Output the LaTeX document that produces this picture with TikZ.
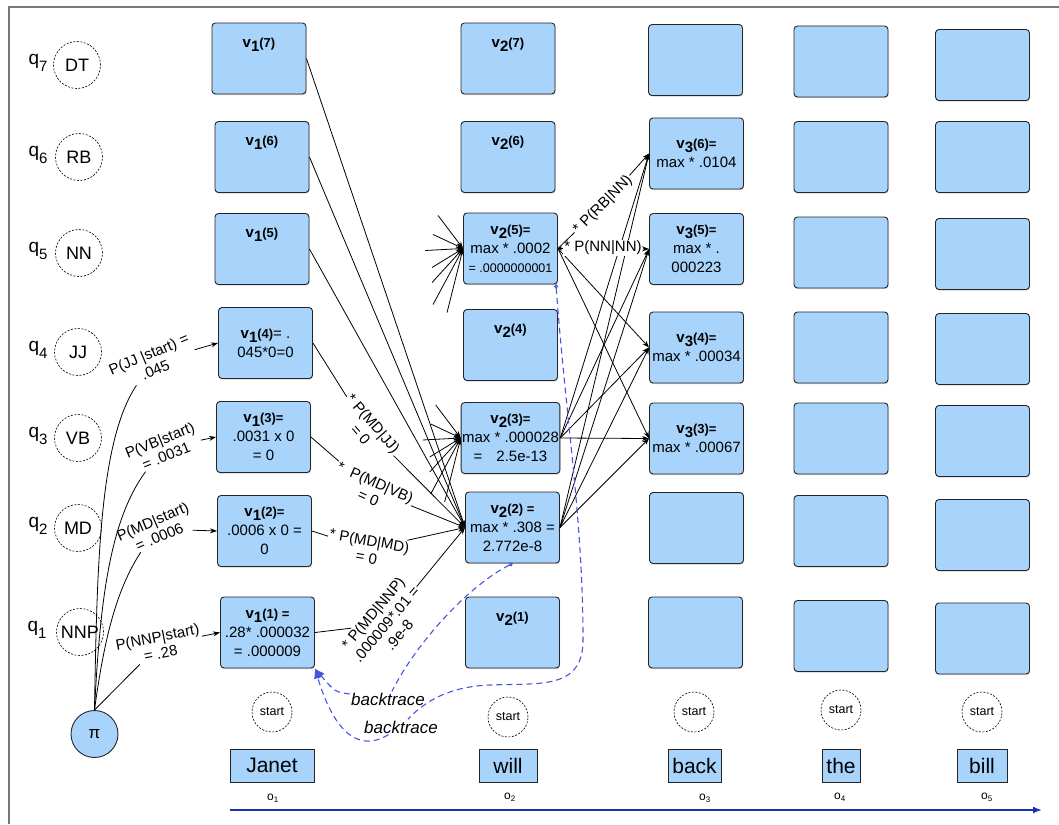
\documentclass[tikz,border=0pt]{standalone}
\usepackage{fontspec}
\setmainfont{Liberation Sans}
\usetikzlibrary{arrows.meta,calc,shadows}

\definecolor{cellblue}{RGB}{168,212,252}
\definecolor{traceblue}{RGB}{72,84,222}
\definecolor{axisblue}{RGB}{28,48,176}
\definecolor{framegray}{RGB}{120,120,120}

\newcommand{\vlabel}[2]{\textbf{v\raisebox{-4pt}{#1}{\fontsize{13}{19}\selectfont#2}}}
\newcommand{\qlabel}[1]{q\raisebox{-7pt}{\fontsize{15}{15}\selectfont#1}}

\tikzset{
  cell/.style={draw=black!85, line width=0.9pt, fill=cellblue, rounded corners=3.5pt,
    minimum width=94pt, minimum height=71pt, inner sep=1pt, align=center,
    font=\fontsize{15}{19}\selectfont,
    drop shadow={shadow xshift=0.5pt, shadow yshift=-1.2pt, opacity=0.35}},
  state/.style={circle, draw, line width=0.6pt, dash pattern=on 2pt off 1.5pt,
    minimum size=47pt, inner sep=0pt, font=\fontsize{18}{18}\selectfont},
  startc/.style={state, minimum size=40pt, font=\fontsize{12.5}{12.5}\selectfont},
  pinode/.style={circle, draw=black!85, line width=0.9pt, fill=cellblue,
    minimum size=47pt, inner sep=0pt, font=\fontsize{17}{17}\selectfont},
  qlab/.style={font=\fontsize{19}{19}\selectfont, inner sep=1pt},
  word/.style={draw=black!85, line width=0.9pt, fill=cellblue, minimum height=33pt,
    inner sep=1pt, font=\fontsize{21}{21}\selectfont,
    drop shadow={shadow xshift=0.5pt, shadow yshift=-1.2pt, opacity=0.35}},
  olab/.style={font=\fontsize{12}{12}\selectfont, inner sep=1pt},
  prob/.style={font=\fontsize{15}{17}\selectfont, align=center, inner sep=1pt, fill=white},
  btlab/.style={font=\itshape\fontsize{17}{17}\selectfont, inner sep=1pt},
  trace/.style={traceblue, line width=1.1pt, dash pattern=on 6pt off 4pt},
  arr/.style={-{Stealth[length=7pt,width=5pt]}},
}

\begin{document}
\begin{tikzpicture}[x=1pt, y=-1pt, line width=0.8pt]
%%%%% FRAME %%%%%
\useasboundingbox (0,0) rectangle (1059,824);
\draw[framegray, line width=1.3pt] (9,824) -- (9,7) -- (1059,7);

%%%%% STATES %%%%%
\node[qlab] (q7) at (38,63) {\qlabel{7}};
\node[state] (dt) at (77,65) {DT};
\node[qlab] (q6) at (38,155) {\qlabel{6}};
\node[state] (rb) at (79,157) {RB};
\node[qlab] (q5) at (38,251) {\qlabel{5}};
\node[state] (nn) at (79,253) {NN};
\node[qlab] (q4) at (38,350) {\qlabel{4}};
\node[state] (jj) at (78,352) {JJ};
\node[qlab] (q3) at (38,436) {\qlabel{3}};
\node[state] (vb) at (78,438) {VB};
\node[qlab] (q2) at (38,526) {\qlabel{2}};
\node[state] (md) at (78,528) {MD};
\node[qlab] (q1) at (37,630) {\qlabel{1}};
\node[state] (nnp) at (80,632) {NNP};
\node[pinode] (pi) at (94.5,734) {π};

%%%%% TRELLIS %%%%%
\node[cell] (v17) at (259,58.5) {\vlabel{1}{(7)}\\[13pt]\mbox{}};
\node[cell] (v16) at (262,157) {\vlabel{1}{(6)}\\[13pt]\mbox{}};
\node[cell] (v15) at (262,249) {\vlabel{1}{(5)}\\[13pt]\mbox{}};
\node[cell] (v14) at (265.5,343) {\vlabel{1}{(4)}= .\\045*0=0};
\node[cell] (v13) at (263.5,437) {\vlabel{1}{(3)=}\\.0031 x 0\\= 0};
\node[cell] (v12) at (264.5,531) {\vlabel{1}{(2)=}\\.0006 x 0 =\\0};
\node[cell] (v11) at (267.5,632.5) {\vlabel{1}{(1) =}\\.28* .000032\\= .000009};

\node[cell] (v27) at (508,58.5) {\vlabel{2}{(7)}\\[13pt]\mbox{}};
\node[cell] (v26) at (508,157) {\vlabel{2}{(6)}\\[13pt]\mbox{}};
\node[cell] (v25) at (510.5,248.5) {\vlabel{2}{(5)=}\\max * .0002\\{\fontsize{12.5}{16}\selectfont = .0000000001}};
\node[cell] (v24) at (510.5,345) {\vlabel{2}{(4)}\\[13pt]\mbox{}};
\node[cell] (v23) at (510.5,438) {\vlabel{2}{(3)=}\\max * .000028\\=\hspace{14pt}2.5e-13};
\node[cell] (v22) at (512.5,527.5) {\vlabel{2}{(2) =}\\max * .308 =\\2.772e-8};
\node[cell] (v21) at (512.5,632.5) {\vlabel{2}{(1)}\\[13pt]\mbox{}};

\node[cell] (v37) at (695.5,60) {};
\node[cell] (v36) at (696.5,153.5) {\vlabel{3}{(6)=}\\max * .0104};
\node[cell] (v35) at (696.5,249) {\vlabel{3}{(5)=}\\max * .\\000223};
\node[cell] (v34) at (696.5,347.5) {\vlabel{3}{(4)=}\\max * .00034};
\node[cell] (v33) at (696.5,438.5) {\vlabel{3}{(3)=}\\max * .00067};
\node[cell] (v32) at (696.5,528) {};
\node[cell] (v31) at (695.5,632.5) {};

\node[cell] (v47) at (841,61.5) {};
\node[cell] (v46) at (841,157) {};
\node[cell] (v45) at (841,252.5) {};
\node[cell] (v44) at (841,347.5) {};
\node[cell] (v43) at (841,438.5) {};
\node[cell] (v42) at (841,531) {};
\node[cell] (v41) at (841,636) {};

\node[cell] (v57) at (982.5,65) {};
\node[cell] (v56) at (982.5,157) {};
\node[cell] (v55) at (982.5,254) {};
\node[cell] (v54) at (982.5,349) {};
\node[cell] (v53) at (982.5,441) {};
\node[cell] (v52) at (982.5,535) {};
\node[cell] (v51) at (982.5,638.5) {};

%%%%% OBSERVATIONS %%%%%
\node[startc] (s1) at (272,712) {start};
\node[startc] (s2) at (508,717) {start};
\node[startc] (s3) at (694,712) {start};
\node[startc] (s4) at (841,710) {start};
\node[startc] (s5) at (982,712) {start};

\node[word, minimum width=84pt] (janet) at (272,765.5) {Janet};
\node[word, minimum width=58pt] (will) at (508,765.5) {will};
\node[word, minimum width=53pt] (back) at (694.5,765.5) {back};
\node[word, minimum width=38pt] (the) at (841,765.5) {the};
\node[word, minimum width=50pt] (bill) at (982,765.5) {bill};

\node[olab] (o1) at (273,798) {o\textsubscript{1}};
\node[olab] (o2) at (510,797) {o\textsubscript{2}};
\node[olab] (o3) at (705,798) {o\textsubscript{3}};
\node[olab] (o4) at (840,797) {o\textsubscript{4}};
\node[olab] (o5) at (987,797) {o\textsubscript{5}};

\coordinate (ax0) at (230,810);
\coordinate (ax1) at (1042,810);
\draw[axisblue, line width=1.6pt, -{Latex[length=9pt,width=7pt]}] (ax0) -- (ax1);

%%%%% START PROBABILITIES %%%%%
\node[prob, rotate=23] (pjj) at (152,362) {P(JJ |start) =\\.045};
\node[prob, rotate=22] (pvb) at (163,448) {P(VB|start)\\= .0031};
\node[prob, rotate=23] (pmd) at (156,529) {P(MD|start)\\= .0006};
\node[prob, rotate=11] (pnnp) at (159,645) {P(NNP|start)\\= .28};

\draw (pi.north) .. controls (97,560) and (100,440) .. (pjj);
\draw (pi.north) .. controls (100,600) and (110,520) .. (pvb);
\draw (pi.north) .. controls (104,640) and (116,590) .. (pmd);
\draw (pi.north) -- (pnnp);
\draw[arr] (pjj) -- (v14.west);
\draw[arr] (pvb) -- (v13.west);
\draw[arr] (pmd) -- (v12.west);
\draw[arr] (pnnp) -- (v11.west);

%%%%% STEP 1 TO 2 %%%%%
\node[prob, rotate=-49] (pmdjj) at (367,429) {* P(MD|JJ)\\= 0};
\node[prob, rotate=-24] (pmdvb) at (372,490) {*\hspace{4pt} P(MD|VB)\\= 0};
\node[prob, rotate=-10] (pmdmd) at (368,549) {* P(MD|MD)\\= 0};
\node[prob, rotate=50] (pmdnnp) at (386,624) {* P(MD|NNP)\\.000009*.01 =\\.9e-8};

\draw[arr] (v17.east) -- (v22.west);
\draw[arr] (v16.east) -- (v22.west);
\draw[arr] (v15.east) -- (v22.west);
\draw (v14.east) -- (pmdjj);
\draw[arr] (pmdjj) -- (v22.west);
\draw (v13.east) -- (pmdvb);
\draw[arr] (pmdvb) -- (v22.west);
\draw (v12.east) -- (pmdmd);
\draw[arr] (pmdmd) -- (v22.west);
\draw (v11.east) -- (pmdnnp);
\draw[arr] (pmdnnp) -- (v22.west);

\foreach \dx/\dy in {-25/-33,-30/-14,-38/2,-31/19,-31/34,-30/56,-16/64}{
  \draw[arr] ($(v25.west)+(\dx,\dy)$) -- (v25.west);
  \draw[arr] ($(v23.west)+(\dx,\dy)$) -- (v23.west);
}

%%%%% STEP 2 TO 3 %%%%%
\foreach \t in {v36,v35,v34,v33}{
  \draw[arr] (v23.east) -- (\t.west);
  \draw[arr] (v22.east) -- (\t.west);
}
\draw[arr] (v25.east) -- (v34.west);
\draw[arr] (v25.east) -- (v33.west);

\node[prob, rotate=45] (prb) at (603,205) {* P(RB|NN)};
\node[prob] (pnn) at (603,248) {* P(NN|NN)};
\draw (v25.east) -- (prb);
\draw[arr] (prb) -- (v36.west);
\draw[-{Stealth[length=4pt,width=4pt]}] (pnn) -- (v25.east);
\draw[arr] (pnn) -- (v35.west);

%%%%% BACKTRACE %%%%%
\node[btlab] (bt1) at (388,699) {backtrace};
\node[btlab] (bt2) at (401,727) {backtrace};

\draw[trace, {Circle[open,length=4pt]}-] (v22.south) .. controls (470,585) and (418,640) .. (bt1);
\draw[trace, -{Latex[length=10pt,width=8pt]}] (bt1) .. controls (335,692) .. (v11.south east);
\draw[trace, {Circle[open,length=4pt]}-] ($(v25.south east)+(-2,0)$) .. controls (566,420) and (583,520) .. (583,640)
  .. controls (583,690) and (540,683) .. (490,685) .. controls (460,686) and (430,695) .. (bt2);
\draw[trace, -{Latex[length=10pt,width=8pt]}] (bt2) .. controls (360,752) and (335,735) .. (v11.south east);
\end{tikzpicture}
\end{document}
